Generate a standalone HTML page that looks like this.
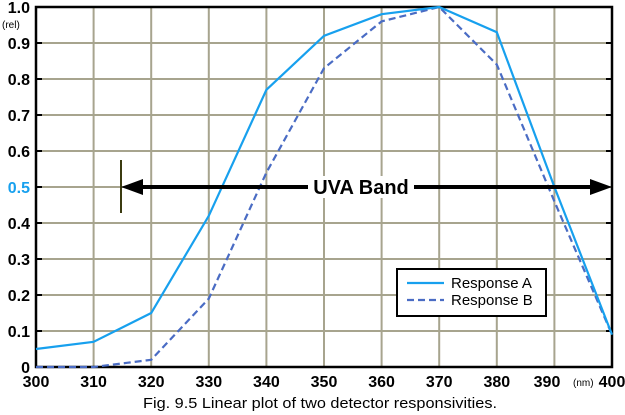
<!DOCTYPE html>
<html><head><style>
html,body{margin:0;padding:0;background:#fff;}
svg{display:block;}
text{font-family:"Liberation Sans",Arial,sans-serif;}
</style></head><body>
<svg width="625" height="415" viewBox="0 0 625 415" xmlns="http://www.w3.org/2000/svg">
<g stroke="#a7a48e" stroke-width="2">
<line x1="93.6" y1="7" x2="93.6" y2="367"/><line x1="151.2" y1="7" x2="151.2" y2="367"/>
<line x1="208.8" y1="7" x2="208.8" y2="367"/><line x1="266.4" y1="7" x2="266.4" y2="367"/>
<line x1="324" y1="7" x2="324" y2="367"/><line x1="381.6" y1="7" x2="381.6" y2="367"/>
<line x1="439.2" y1="7" x2="439.2" y2="367"/><line x1="496.8" y1="7" x2="496.8" y2="367"/>
<line x1="554.4" y1="7" x2="554.4" y2="367"/>
<line x1="36" y1="43" x2="612" y2="43"/><line x1="36" y1="79" x2="612" y2="79"/>
<line x1="36" y1="115" x2="612" y2="115"/><line x1="36" y1="151" x2="612" y2="151"/>
<line x1="36" y1="187" x2="612" y2="187"/><line x1="36" y1="223" x2="612" y2="223"/>
<line x1="36" y1="259" x2="612" y2="259"/><line x1="36" y1="295" x2="612" y2="295"/>
<line x1="36" y1="331" x2="612" y2="331"/>
</g>
<rect x="36" y="7" width="576" height="360" fill="none" stroke="#000" stroke-width="2.5"/>
<g stroke="#000" stroke-width="2">
<line x1="36" y1="43" x2="42" y2="43"/><line x1="36" y1="79" x2="42" y2="79"/><line x1="36" y1="115" x2="42" y2="115"/><line x1="36" y1="151" x2="42" y2="151"/><line x1="36" y1="187" x2="42" y2="187"/><line x1="36" y1="223" x2="42" y2="223"/><line x1="36" y1="259" x2="42" y2="259"/><line x1="36" y1="295" x2="42" y2="295"/><line x1="36" y1="331" x2="42" y2="331"/>
<line x1="606" y1="43" x2="612" y2="43"/><line x1="606" y1="79" x2="612" y2="79"/><line x1="606" y1="115" x2="612" y2="115"/><line x1="606" y1="151" x2="612" y2="151"/><line x1="606" y1="223" x2="612" y2="223"/><line x1="606" y1="259" x2="612" y2="259"/><line x1="606" y1="295" x2="612" y2="295"/><line x1="606" y1="331" x2="612" y2="331"/>
</g>
<polyline fill="none" stroke="#4a6cc4" stroke-width="2.2" stroke-dasharray="7,4" points="36,367 93.6,367 151.2,359.8 208.8,298.6 266.4,172.6 324,68.2 381.6,21.4 439.2,7 496.8,64.6 554.4,201.4 612,334.6"/>
<polyline fill="none" stroke="#17a0ee" stroke-width="2.2" points="36,349 93.6,341.8 151.2,313 208.8,215.8 266.4,89.8 324,35.8 381.6,14.2 439.2,7 496.8,32.2 554.4,187 612,334.6"/>
<line x1="121" y1="160" x2="121" y2="213" stroke="#3b3b10" stroke-width="2"/>
<line x1="138" y1="187" x2="598" y2="187" stroke="#000" stroke-width="4"/>
<polygon points="121,187 143,179 143,195" fill="#000"/>
<polygon points="612,187 590,179 590,195" fill="#000"/>
<rect x="308" y="176" width="106" height="22" fill="#fff"/>
<text x="361" y="194" font-size="20" font-weight="bold" text-anchor="middle">UVA Band</text>
<rect x="397" y="269" width="149" height="47" fill="#fff" stroke="#000" stroke-width="2"/>
<line x1="407" y1="283" x2="444" y2="283" stroke="#17a0ee" stroke-width="2.2"/>
<line x1="407" y1="300" x2="444" y2="300" stroke="#4a6cc4" stroke-width="2.2" stroke-dasharray="7,4"/>
<text x="451" y="288" font-size="15">Response A</text>
<text x="451" y="305" font-size="15">Response B</text>
<g font-size="16" font-weight="bold" text-anchor="end">
<text x="30" y="13">1.0</text><text x="30" y="49">0.9</text><text x="30" y="85">0.8</text><text x="30" y="121">0.7</text><text x="30" y="157">0.6</text><text x="30" y="193" fill="#17a0ee">0.5</text><text x="30" y="229">0.4</text><text x="30" y="265">0.3</text><text x="30" y="301">0.2</text><text x="30" y="337">0.1</text><text x="30" y="373">0</text>
</g>
<text x="2" y="28" font-size="10">(rel)</text>
<g font-size="16" font-weight="bold" text-anchor="middle">
<text x="36" y="387">300</text><text x="93.6" y="387">310</text><text x="151.2" y="387">320</text><text x="208.8" y="387">330</text><text x="266.4" y="387">340</text><text x="324" y="387">350</text><text x="381.6" y="387">360</text><text x="439.2" y="387">370</text><text x="496.8" y="387">380</text><text x="547" y="387">390</text><text x="612" y="387">400</text>
</g>
<text x="573" y="386" font-size="10">(nm)</text>
<text x="143" y="408" font-size="15" textLength="354" lengthAdjust="spacingAndGlyphs">Fig. 9.5  Linear plot of two detector responsivities.</text>
</svg>
</body></html>
